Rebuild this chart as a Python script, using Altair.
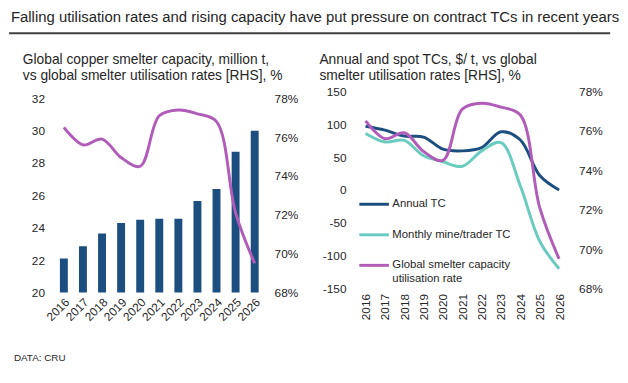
import altair as alt
import pandas as pd

# ---------------- data ----------------
years = [str(y) for y in range(2016, 2027)]
capacity = [22.1, 22.85, 23.65, 24.3, 24.5, 24.55, 24.55, 25.65, 26.4, 28.7, 30.0]
utilisation = [76.5, 75.6, 75.9, 74.95, 74.5, 77.1, 77.4, 77.2, 76.8, 72.1, 69.5]
annual_tc = [97, 91, 82, 80.5, 62, 59.5, 64.5, 88.5, 76, 22, 0]
monthly_tc = [86, 73, 75.5, 52, 43, 36, 59.5, 72, 6, -78, -120]

series_names = ["Annual TC", "Monthly mine/trader TC", "Global smelter capacity|utilisation rate"]
series_colors = ["#1C4E80", "#6ACBC0", "#B05CB8"]

main_title = "Falling utilisation rates and rising capacity have put pressure on contract TCs in recent years"
left_title = ["Global copper smelter capacity, million t,", "vs global smelter utilisation rates [RHS], %"]
right_title = ["Annual and spot TCs, $/ t, vs global", "smelter utilisation rates [RHS], %"]
source_note = "DATA: CRU"

cap_ticks = [20, 22, 24, 26, 28, 30, 32]
util_ticks = [0.68, 0.70, 0.72, 0.74, 0.76, 0.78]
tc_ticks = [-150, -100, -50, 0, 50, 100, 150]

FONT = "Liberation Sans"
TXT = "#262626"
NAVY, TEAL, PURPLE = series_colors

# ---------------- tables ----------------
df = pd.DataFrame({
    "year": years,
    "capacity": capacity,
    "util": [u / 100 for u in utilisation],
})
tc_long = pd.concat([
    pd.DataFrame({"year": years, "tc": annual_tc, "series": series_names[0]}),
    pd.DataFrame({"year": years, "tc": monthly_tc, "series": series_names[1]}),
])
util_long = pd.DataFrame({"year": years, "util": [u / 100 for u in utilisation], "series": series_names[2]})
one = pd.DataFrame({"k": [0]})

# ---------------- left panel ----------------
x_left = alt.X("year:O", title=None,
               scale=alt.Scale(paddingInner=0.585, paddingOuter=0.2925),
               axis=alt.Axis(labelAngle=315, labelPadding=4))

bars = alt.Chart(df).mark_bar(color=NAVY, clip=True).encode(
    x=x_left,
    y=alt.Y("capacity:Q", title=None,
            scale=alt.Scale(domain=[20, 32], nice=False, zero=False),
            axis=alt.Axis(values=cap_ticks, labelPadding=10)),
)
line_left = alt.Chart(df).mark_line(color=PURPLE, strokeWidth=3, interpolate="catmull-rom").encode(
    x=x_left,
    y=alt.Y("util:Q", title=None,
            scale=alt.Scale(domain=[0.68, 0.78], nice=False, zero=False),
            axis=alt.Axis(orient="right", values=util_ticks, format=".0%", labelPadding=10)),
)
left_panel = alt.layer(bars, line_left).resolve_scale(y="independent").properties(width=213, height=197)
spacer = alt.Chart(one).mark_text(text="").encode(x=alt.value(0), y=alt.value(0)).properties(width=1, height=2)
left = alt.vconcat(spacer, left_panel, spacing=-4)

# ---------------- right panel ----------------
x_right = alt.X("year:O", title=None,
                scale=alt.Scale(type="point", padding=0.5),
                axis=alt.Axis(labelAngle=270, labelPadding=5))
color_enc = alt.Color(
    "series:N",
    scale=alt.Scale(domain=series_names, range=series_colors),
    legend=alt.Legend(orient="none", legendX=2, legendY=98, title=None,
                      symbolType="stroke", symbolSize=900, symbolStrokeWidth=3,
                      labelFontSize=11.5, labelFont=FONT, labelColor=TXT, labelOffset=2,
                      rowPadding=8, labelExpr="split(datum.label, '|')"),
)
tc_lines = alt.Chart(tc_long).mark_line(strokeWidth=3, interpolate="catmull-rom").encode(
    x=x_right,
    y=alt.Y("tc:Q", title=None,
            scale=alt.Scale(domain=[-150, 150], nice=False),
            axis=alt.Axis(values=tc_ticks, labelPadding=10, labelExpr="'' + datum.value")),
    color=color_enc,
    detail="series:N",
)
util_line = alt.Chart(util_long).mark_line(strokeWidth=3, interpolate="catmull-rom").encode(
    x=x_right,
    y=alt.Y("util:Q", title=None,
            scale=alt.Scale(domain=[0.68, 0.78], nice=False, zero=False),
            axis=alt.Axis(orient="right", values=util_ticks, format=".0%", labelPadding=10)),
    color=color_enc,
)
right = alt.layer(tc_lines, util_line).resolve_scale(y="independent").properties(width=216, height=200)

# ---------------- header & footer ----------------
header_text = alt.Chart(one).mark_text(
    align="left", baseline="middle", font=FONT, fontSize=15.1, color=TXT, text=main_title
).encode(x=alt.value(-44), y=alt.value(6))
header_rule = alt.Chart(one).mark_rule(color="#404040", strokeWidth=2).encode(
    x=alt.value(-46), x2=alt.value(564), y=alt.value(22)
)
sub_left = alt.Chart(one).mark_text(
    align="left", baseline="top", font=FONT, fontSize=14, color=TXT, lineHeight=16, text=left_title
).encode(x=alt.value(-32), y=alt.value(42))
sub_right = alt.Chart(one).mark_text(
    align="left", baseline="top", font=FONT, fontSize=14, color=TXT, lineHeight=16, text=right_title
).encode(x=alt.value(269), y=alt.value(42))
header = alt.layer(header_rule, header_text, sub_left, sub_right).properties(width=560, height=75)

footer = alt.Chart(one).mark_text(
    align="left", baseline="middle", font=FONT, fontSize=10, color=TXT, text=source_note
).encode(x=alt.value(-41), y=alt.value(36)).properties(width=100, height=40)

panels = alt.hconcat(left, right, spacing=23).resolve_scale(color="independent").resolve_legend(color="independent")

chart = alt.vconcat(header, panels, footer, spacing=0).properties(
    padding=0
).configure_view(stroke=None).configure_axis(
    domain=False, ticks=False, grid=False,
    labelFont=FONT, labelFontSize=12, labelColor=TXT,
)

chart.save("out.html", embed_options={"renderer": "svg", "actions": False})
